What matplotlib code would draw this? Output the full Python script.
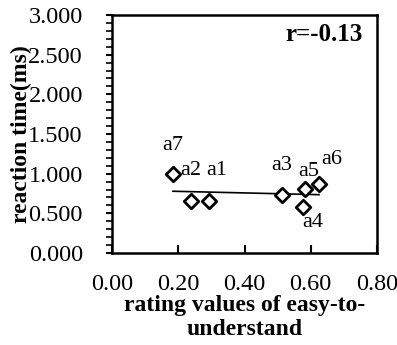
import numpy as np
import matplotlib.pyplot as plt
from matplotlib.ticker import MultipleLocator, FormatStrFormatter

plt.rcParams['font.family'] = ['Liberation Serif', 'DejaVu Serif']

# rating of easy-to-understand vs. reaction time for each sample
names = ['a1', 'a2', 'a3', 'a4', 'a5', 'a6', 'a7']
rating = [0.293, 0.238, 0.514, 0.577, 0.583, 0.625, 0.184]
rt = [0.65, 0.65, 0.73, 0.58, 0.81, 0.87, 0.99]
r_text = 'r=-0.13'

# label offsets in pixels from the marker
offsets = {'a1': (8, 31), 'a2': (0, 31), 'a3': (-1, 30), 'a4': (10, -16),
           'a5': (4, 17), 'a6': (13, 24), 'a7': (0, 29)}

fig = plt.figure(figsize=(3.97, 3.45), dpi=100)
ax = fig.add_axes([112 / 397, 1 - 253 / 345, 265 / 397, 238 / 345])

x = np.array(rating)
y = np.array(rt)
ax.scatter(x, y, marker='D', s=55, facecolors='white', edgecolors='black',
           linewidths=2, zorder=3)

k, b = np.polyfit(x, y, 1)
xs = np.array([x.min(), x.max()])
ax.plot(xs, k * xs + b, color='black', lw=1.2, zorder=2)

for n, xi, yi in zip(names, x, y):
    dx, dy = offsets[n]
    ax.annotate(n, (xi, yi), xytext=(dx, dy), textcoords='offset pixels',
                ha='center', va='center', fontsize=16)

ax.text(0.947, 0.916, r_text, transform=ax.transAxes, ha='right',
        va='center', fontsize=18, fontweight='bold')

ax.set_xlim(0, 0.8)
ax.set_ylim(0, 3.0)
ax.xaxis.set_major_locator(MultipleLocator(0.2))
ax.xaxis.set_major_formatter(FormatStrFormatter('%.2f'))
ax.yaxis.set_major_locator(MultipleLocator(0.5))
ax.yaxis.set_minor_locator(MultipleLocator(0.1))
ax.yaxis.set_major_formatter(FormatStrFormatter('%.3f'))
ax.tick_params(axis='x', direction='in', length=6, width=1.5, labelsize=17.5, pad=15)
ax.tick_params(axis='y', which='major', direction='out', length=4, width=1.5,
               labelsize=17.5, pad=17)
ax.tick_params(axis='y', which='minor', direction='out', length=4, width=1.2)
for s in ax.spines.values():
    s.set_linewidth(1.8)

ax.set_xlabel('rating values of easy-to-\nunderstand', fontsize=17,
              fontweight='bold', linespacing=1.15)
ax.xaxis.set_label_coords(0.5, -0.178)
ax.set_ylabel('reaction time(ms)', fontsize=17, fontweight='bold', labelpad=-3)

fig.savefig('out.png', dpi=100)
